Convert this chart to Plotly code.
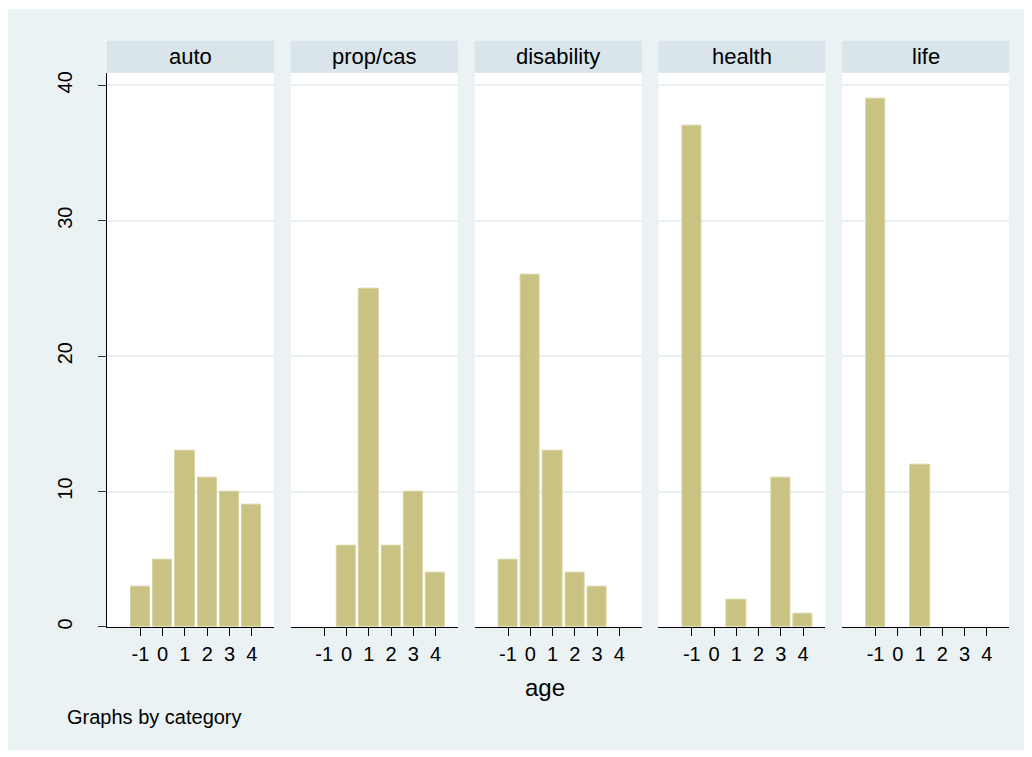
import plotly.graph_objects as go

# ---- data ----
categories = ["auto", "prop/cas", "disability", "health", "life"]
ages = [-1, 0, 1, 2, 3, 4]
auto_counts = [3, 5, 13, 11, 10, 9]
propcas_counts = [0, 6, 25, 6, 10, 4]
disability_counts = [5, 26, 13, 4, 3, 0]
health_counts = [37, 0, 2, 0, 11, 1]
life_counts = [39, 0, 12, 0, 0, 0]
series = [auto_counts, propcas_counts, disability_counts, health_counts, life_counts]
y_ticks = [0, 10, 20, 30, 40]
x_title = "age"
note = "Graphs by category"

# ---- styling / layout ----
# page body has an 8px margin, so figure coords = page coords - 8
OFF = 8
W, H = 1032 - OFF, 757 - OFF
BG = "#EAF2F3"
STRIP = "#D9E5EA"
GRID = "#E8F0F2"
BAR = "#C9C283"
BAR_LINE = "#D8D3A2"
FONT = "Liberation Sans, Arial, sans-serif"

panel_x0 = 107.0
panel_w = 167.0
panel_step = 183.8
plot_top, plot_bot = 72.0, 629.3
strip_top = 40.0

def px(x):
    return (x - OFF) / W

def py(y):
    return (H - (y - OFF)) / H

fig = go.Figure()
shapes = []
annotations = []

# background panel
shapes.append(dict(type="rect", xref="paper", yref="paper", layer="below",
                   x0=0, x1=px(1025), y0=py(753), y1=1,
                   fillcolor=BG, line=dict(width=0)))

yr_top = (plot_bot - plot_top) / ((plot_bot - 84.7) / 40.0)

for i, (cat, vals) in enumerate(zip(categories, series)):
    n = i + 1
    xa = "x" if n == 1 else f"x{n}"
    ya = "y" if n == 1 else f"y{n}"
    xs = [a for a, v in zip(ages, vals) if v > 0]
    ys = [v for v in vals if v > 0]
    fig.add_trace(go.Bar(x=xs, y=ys, xaxis=xa, yaxis=ya, width=0.87,
                         marker=dict(color=BAR, line=dict(color=BAR_LINE, width=1)),
                         showlegend=False, hoverinfo="x+y"))
    x0 = panel_x0 + i * panel_step
    x1 = x0 + panel_w
    dom_x = [px(x0), px(x1)]
    dom_y = [py(plot_bot), py(plot_top)]
    xkey = "xaxis" if n == 1 else f"xaxis{n}"
    ykey = "yaxis" if n == 1 else f"yaxis{n}"
    fig.layout[xkey] = dict(domain=dom_x, anchor=ya, range=[-2.5, 5.0],
                            tickmode="array", tickvals=ages,
                            ticktext=[str(a) for a in ages],
                            ticks="outside", ticklen=8, tickcolor="#000",
                            tickwidth=1, ticklabelstandoff=1,
                            showline=True, linecolor="#000", linewidth=1.2,
                            showgrid=False, zeroline=False,
                            tickfont=dict(family=FONT, size=20, color="#000"))
    fig.layout[ykey] = dict(domain=dom_y, anchor=xa, range=[0, yr_top],
                            tickmode="array", tickvals=y_ticks,
                            showgrid=True, gridcolor=GRID, gridwidth=1.5,
                            zeroline=False,
                            showline=(n == 1), linecolor="#000", linewidth=1.2,
                            ticks="outside" if n == 1 else "", ticklen=8,
                            tickcolor="#333", tickwidth=1,
                            showticklabels=(n == 1), tickangle=-90,
                            ticklabelstandoff=18,
                            tickfont=dict(family=FONT, size=20, color="#000"))
    # white plot panel
    shapes.append(dict(type="rect", xref="paper", yref="paper",
                       x0=px(x0), x1=px(x1), y0=py(plot_bot), y1=py(plot_top),
                       fillcolor="white", line=dict(width=0), layer="below"))
    # header strip
    shapes.append(dict(type="rect", xref="paper", yref="paper",
                       x0=px(x0), x1=px(x1), y0=py(plot_top), y1=py(strip_top),
                       fillcolor=STRIP, line=dict(width=0), layer="below"))
    annotations.append(dict(xref="paper", yref="paper",
                            x=px((x0 + x1) / 2), y=py((plot_top + strip_top) / 2),
                            text=cat, showarrow=False, xanchor="center", yanchor="middle",
                            font=dict(family=FONT, size=22, color="#000")))

annotations.append(dict(xref="paper", yref="paper", x=px(545), y=py(690),
                        text=x_title, showarrow=False, xanchor="center", yanchor="middle",
                        font=dict(family=FONT, size=24, color="#000")))
annotations.append(dict(xref="paper", yref="paper", x=px(65), y=py(720),
                        text=note, showarrow=False, xanchor="left", yanchor="middle",
                        font=dict(family=FONT, size=20, color="#000")))

fig.update_layout(width=W, height=H, margin=dict(l=0, r=0, t=0, b=0),
                  paper_bgcolor="white", plot_bgcolor="white",
                  shapes=shapes, annotations=annotations, bargap=0,
                  font=dict(family=FONT))

fig.write_html("out.html")
